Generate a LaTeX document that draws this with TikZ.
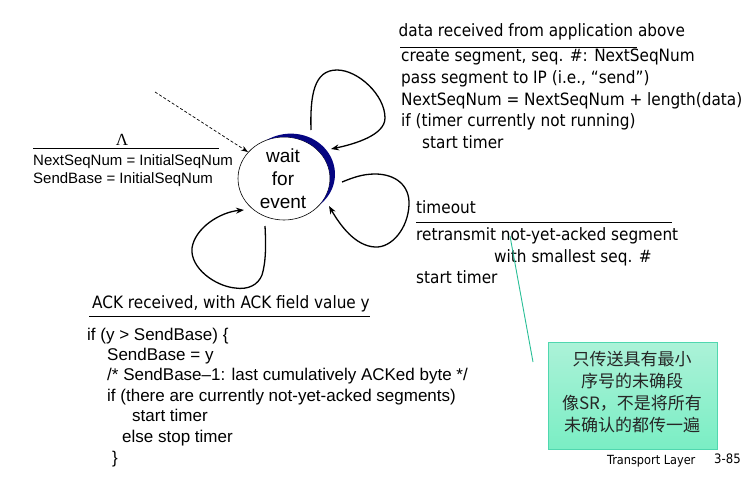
\documentclass[tikz,border=0pt]{standalone}
\usepackage{fontspec}
\setmainfont{Liberation Sans}
\newfontfamily\tah{DejaVu Sans Condensed}
\newfontfamily\serifl{Liberation Serif}
\newfontfamily\cjk{Noto Sans CJK SC}
\usetikzlibrary{shapes.geometric,arrows.meta}
\definecolor{navyc}{RGB}{5,5,130}
\definecolor{notetop}{RGB}{172,242,216}
\definecolor{notebot}{RGB}{122,238,196}
\definecolor{noteedge}{RGB}{80,215,175}
\definecolor{pointc}{RGB}{40,190,150}
\tikzset{
  tah/.style={font=\tah\fontsize{17}{20}\selectfont, inner sep=0pt, anchor=base west},
  ar/.style={font=\fontsize{17}{20}\selectfont, inner sep=0pt, anchor=base west},
  arsm/.style={font=\fontsize{15}{18}\selectfont, inner sep=0pt, anchor=base west},
  wfe/.style={font=\fontsize{19}{23}\selectfont, inner sep=0pt, anchor=base},
  cjkline/.style={font=\cjk\fontsize{17}{22}\selectfont, text=black!85, inner sep=0pt, anchor=base},
  rule/.style={line width=0.9pt},
  loopc/.style={line width=1.3pt, -{Stealth[length=8pt,width=6pt]}},
}
\begin{document}
\begin{tikzpicture}[x=1pt,y=-1pt]
\useasboundingbox (0,0) rectangle (754,476);
% state
\node[ellipse, draw, line width=0.6pt, minimum width=92pt, minimum height=83pt, inner sep=0pt] (w) at (284,178.5) {};
% crescent
\fill[navyc] plot[domain=-39:112, samples=80]
    ({284+(46+6.5*sin(1.192*(\x+39)))*cos(\x)}, {178.5-(41.5+6.5*sin(1.192*(\x+39)))*sin(\x)})
  -- plot[domain=112:-39, samples=80] ({284+46*cos(\x)}, {178.5-41.5*sin(\x)}) -- cycle;
\node[wfe] (w1) at (283,162) {wait};
\node[wfe] (w2) at (283,185) {for};
\node[wfe] (w3) at (283,208) {event};

% initial dashed arrow
\coordinate (d0) at (155,92);
\coordinate (d1) at (248,152);
\draw[line width=0.7pt, dash pattern=on 3pt off 2pt, -{Stealth[length=7pt,width=5pt]}] (d0) -- (d1);

% left text
\node[inner sep=0pt, anchor=base, font=\serifl\fontsize{17}{18}\selectfont] (lam) at (122,145) {Λ};
\coordinate (la) at (33,148);
\coordinate (lb) at (219,148);
\draw[rule] (la) -- (lb);
\node[arsm] (l1) at (33,165.7) {NextSeqNum = InitialSeqNum};
\node[arsm] (l2) at (33,183.3) {SendBase = InitialSeqNum};

% top loop
\coordinate (s1) at (311,130);
\coordinate (e1) at (331,149);
\draw[loopc] (s1) .. controls (310,95) and (314,70) .. (337,70)
  .. controls (358,70) and (385,95) .. (385,118)
  .. controls (385,135) and (355,144) .. (e1);

% right loop
\coordinate (s2) at (342,182);
\coordinate (e2) at (329,206);
\draw[loopc] (s2) .. controls (352,178) and (362,174) .. (375,174)
  .. controls (395,174) and (410,185) .. (409,205)
  .. controls (408,228) and (392,248) .. (375,247)
  .. controls (355,246) and (340,225) .. (e2);

% bottom loop
\coordinate (s3) at (265,226);
\coordinate (e3) at (244,210);
\draw[loopc] (s3) .. controls (266,245) and (266,262) .. (262,275)
  .. controls (258,285) and (248,290) .. (235,288)
  .. controls (215,286) and (190,268) .. (192,248)
  .. controls (195,228) and (220,212) .. (e3);

% top-right text
\node[tah] (a0) at (398.5,37) {data received from application above};
\coordinate (ra) at (400,47);
\coordinate (rb) at (637,47);
\draw[rule] (ra) -- (rb);
\node[tah] (a1) at (401,61.7) {create segment, seq. \#: NextSeqNum};
\node[tah] (a2) at (401,83.3) {pass segment to IP (i.e., “send”)};
\node[tah] (a3) at (401,105.5) {NextSeqNum = NextSeqNum + length(data)};
\node[tah] (a4) at (401,127) {if (timer currently not running)};
\node[tah] (a5) at (422,148.5) {start timer};

% timeout text
\node[tah] (b0) at (416,213) {timeout};
\coordinate (ta) at (416,222);
\coordinate (tb) at (672,222);
\draw[rule] (ta) -- (tb);
\node[tah] (b1) at (416,240) {retransmit not-yet-acked segment};
\node[tah] (b2) at (494,262) {with smallest seq. \#};
\node[tah] (b3) at (416,283) {start timer};

% ACK text
\node[tah] (c0) at (92,308) {ACK received, with ACK field value y};
\coordinate (ca) at (89,316);
\coordinate (cb) at (370,316);
\draw[rule] (ca) -- (cb);
\node[ar] (c1) at (87,340) {if (y > SendBase) \{};
\node[ar] (c2) at (107,360) {SendBase = y};
\node[ar] (c3) at (107,380.5) {/* SendBase–1: last cumulatively ACKed byte */};
\node[ar] (c4) at (107,401) {if (there are currently not-yet-acked segments)};
\node[ar] (c5) at (132,421.5) {start timer};
\node[ar] (c6) at (122,442) {else stop timer};
\node[ar] (c7) at (112,463) {\}};

% note
\coordinate (p0) at (510,236);
\coordinate (p1) at (533,362);
\draw[pointc, line width=0.9pt] (p0) -- (p1);
\path[top color=notetop, bottom color=notebot, draw=noteedge, line width=0.8pt] (548,342) rectangle (717,449);
\node[cjkline] (n1) at (632,365) {只传送具有最小};
\node[cjkline] (n2) at (632,387) {序号的未确段};
\node[cjkline] (n3) at (632,409) {像SR，不是将所有};
\node[cjkline] (n4) at (632,431) {未确认的都传一遍};

% footer
\node[font=\tah\fontsize{12.6}{15}\selectfont, inner sep=0pt, anchor=base west] (f1) at (607,464) {Transport Layer};
\node[font=\tah\fontsize{13}{15}\selectfont, inner sep=0pt, anchor=base west] (f2) at (714,463) {3-85};
\end{tikzpicture}
\end{document}
